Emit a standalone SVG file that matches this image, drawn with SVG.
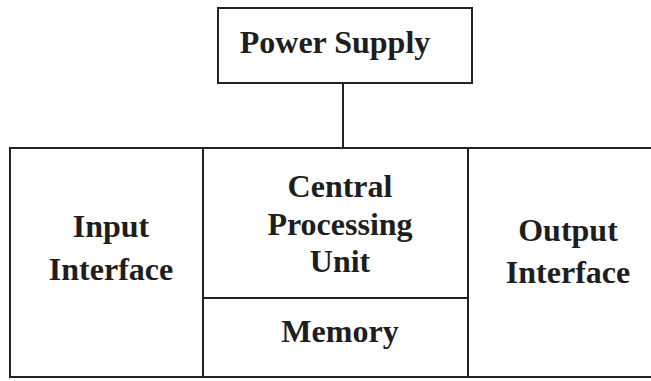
<svg xmlns="http://www.w3.org/2000/svg" width="651" height="381" viewBox="0 0 651 381">
<style>
.box{fill:none;stroke:#222;stroke-width:2}
.t{font-family:"Liberation Serif","Times New Roman",serif;font-weight:bold;font-size:32px;fill:#1e1e1e;text-anchor:middle}
</style>
<rect width="651" height="381" fill="#fff"/>
<g id="connectors">
<line class="box" x1="343" y1="83" x2="343" y2="148"/>
</g>
<g id="power-supply">
<rect class="box" x="218" y="8" width="254" height="75"/>
<text class="t" x="335" y="53">Power Supply</text>
</g>
<g id="input-interface">
<rect class="box" x="10" y="148" width="193" height="229"/>
<text class="t" x="111" y="237">Input</text>
<text class="t" x="111" y="280">Interface</text>
</g>
<g id="cpu">
<rect class="box" x="203" y="148" width="265" height="150"/>
<text class="t" x="340" y="197">Central</text>
<text class="t" x="340" y="235">Processing</text>
<text class="t" x="340" y="272">Unit</text>
</g>
<g id="memory">
<rect class="box" x="203" y="298" width="265" height="79"/>
<text class="t" x="340" y="342">Memory</text>
</g>
<g id="output-interface">
<rect class="box" x="468" y="148" width="200" height="229"/>
<text class="t" x="568" y="241">Output</text>
<text class="t" x="568" y="283">Interface</text>
</g>
</svg>
